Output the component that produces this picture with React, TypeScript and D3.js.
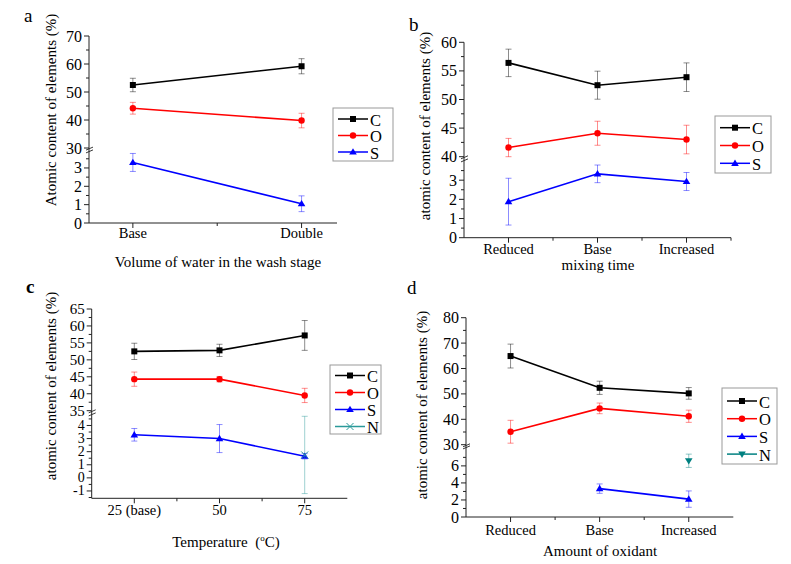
import React from "react";
import * as d3 from "d3";

type Val = number | null;

// ---- panel a: volume of wash water ----
const aCategories = ["Base", "Double"];
const aC: Val[] = [52.5, 59.2];
const aCErr = [2.4, 2.7];
const aO: Val[] = [44.2, 39.8];
const aOErr = [2.1, 2.6];
const aS: Val[] = [3.3, 1.05];
const aSErr = [0.49, 0.43];
const aUpperTicks = [30, 40, 50, 60, 70];
const aLowerTicks = [0, 1, 2, 3];

// ---- panel b: mixing time ----
const bCategories = ["Reduced", "Base", "Increased"];
const bC: Val[] = [56.4, 52.5, 53.9];
const bCErr = [2.4, 2.45, 2.5];
const bO: Val[] = [41.6, 44.1, 43.0];
const bOErr = [1.6, 2.1, 2.5];
const bS: Val[] = [1.88, 3.33, 2.93];
const bSErr = [1.22, 0.46, 0.47];
const bUpperTicks = [40, 45, 50, 55, 60];
const bLowerTicks = [0, 1, 2, 3];

// ---- panel c: temperature ----
const cCategories = ["25 (base)", "50", "75"];
const cC: Val[] = [52.5, 52.8, 57.2];
const cCErr = [2.4, 1.8, 4.4];
const cO: Val[] = [44.3, 44.3, 39.5];
const cOErr = [2.1, 0.8, 2.1];
const cS: Val[] = [3.29, 3.0, 1.65];
const cSErr = [0.48, 1.07, 0.2];
const cN: Val[] = [null, null, 1.75];
const cNErr = [0, 0, 2.95];
const cUpperTicks = [35, 40, 45, 50, 55, 60, 65];
const cLowerTicks = [-1, 0, 1, 2, 3, 4];

// ---- panel d: amount of oxidant ----
const dCategories = ["Reduced", "Base", "Increased"];
const dC: Val[] = [64.9, 52.4, 50.2];
const dCErr = [4.7, 2.6, 2.3];
const dO: Val[] = [35.1, 44.3, 41.2];
const dOErr = [4.5, 2.1, 2.4];
const dS: Val[] = [null, 3.33, 2.1];
const dSErr = [0, 0.55, 0.96];
const dN: Val[] = [null, null, 6.6];
const dNErr = [0, 0, 0.78];
const dUpperTicks = [30, 40, 50, 60, 70, 80];
const dLowerTicks = [0, 2, 4, 6];

type Marker = "square" | "circle" | "triangle" | "triangleDown" | "cross";

interface Series {
  name: string;
  values: Val[];
  errors: number[];
  seg: "upper" | "lower";
  color: string;
  marker: Marker;
}

interface Segment {
  domain: [number, number];
  range: [number, number];
  ticks: number[];
  fontSize?: number;
}

interface PanelCfg {
  letter: string;
  letterX: number;
  letterY: number;
  letterBold?: boolean;
  axisX: number;
  xRight: number;
  xDomain: [number, number];
  xMinor: number[];
  catY: number;
  categories: string[];
  upper: Segment;
  lower: Segment;
  yTitle: string;
  yTitleX: number;
  yTitleY: number;
  xTitle: React.ReactNode;
  xTitleX: number;
  xTitleY: number;
  legend: { x: number; y: number; w: number; h: number; first: number; step: number };
  series: Series[];
}

const FONT = "'Liberation Serif', 'Times New Roman', serif";
const BLACK = "#000000";
const RED = "#ff0000";
const BLUE = "#0000ff";
const TEAL = "#008080";

const minorTicks = (ticks: number[], domain: [number, number]) => {
  const step = ticks[1] - ticks[0];
  return d3
    .range(ticks[0] - step / 2, domain[1] + 1e-9, step)
    .filter((v) => v >= domain[0] - 1e-9 && v <= domain[1] + 1e-9);
};

const MarkerShape: React.FC<{ type: Marker; x: number; y: number; color: string }> = ({ type, x, y, color }) => {
  if (type === "square") return <rect x={x - 3} y={y - 3} width={6} height={6} fill={color} />;
  if (type === "circle") return <circle cx={x} cy={y} r={3.2} fill={color} />;
  if (type === "triangle")
    return <path d={`M${x},${y - 3.8}L${x + 3.8},${y + 2.6}L${x - 3.8},${y + 2.6}Z`} fill={color} />;
  if (type === "triangleDown")
    return <path d={`M${x},${y + 3.8}L${x + 3.8},${y - 2.6}L${x - 3.8},${y - 2.6}Z`} fill={color} />;
  return (
    <path
      d={`M${x - 3.5},${y - 3.5}L${x + 3.5},${y + 3.5}M${x - 3.5},${y + 3.5}L${x + 3.5},${y - 3.5}`}
      stroke={color}
      strokeWidth={1}
      fill="none"
    />
  );
};

const Panel: React.FC<{ cfg: PanelCfg }> = ({ cfg }) => {
  const x = d3.scaleLinear().domain(cfg.xDomain).range([cfg.axisX, cfg.xRight]);
  const yU = d3.scaleLinear().domain(cfg.upper.domain).range(cfg.upper.range);
  const yL = d3.scaleLinear().domain(cfg.lower.domain).range(cfg.lower.range);
  const bottom = cfg.lower.range[0];
  const breakTop = cfg.upper.range[0];
  const breakBottom = cfg.lower.range[1];

  const segs: [Segment, d3.ScaleLinear<number, number>][] = [
    [cfg.upper, yU],
    [cfg.lower, yL],
  ];

  return (
    <g fontFamily={FONT}>
      <text
        x={cfg.letterX}
        y={cfg.letterY}
        fontSize={19}
        fontWeight={cfg.letterBold ? "bold" : "normal"}
      >
        {cfg.letter}
      </text>

      {/* Y axis, two segments with a break */}
      {segs.map(([seg, y], si) => (
        <g key={si}>
          <line x1={cfg.axisX} x2={cfg.axisX} y1={seg.range[0]} y2={seg.range[1]} stroke="#222" />
          {seg.ticks.map((t) => (
            <g key={t}>
              <line x1={cfg.axisX - 5} x2={cfg.axisX} y1={y(t)} y2={y(t)} stroke="#222" />
              <text
                x={cfg.axisX - 7}
                y={y(t)}
                textAnchor="end"
                dominantBaseline="central"
                fontSize={seg.fontSize ?? 16}
              >
                {t}
              </text>
            </g>
          ))}
          {minorTicks(seg.ticks, seg.domain).map((t) => (
            <line key={t} x1={cfg.axisX - 3} x2={cfg.axisX} y1={y(t)} y2={y(t)} stroke="#222" />
          ))}
        </g>
      ))}
      <line x1={cfg.axisX} x2={cfg.axisX} y1={breakTop} y2={breakBottom} stroke="#222" />
      {[breakTop + 0.6, breakBottom - 0.6].map((by, i) => (
        <line
          key={i}
          x1={cfg.axisX - 3}
          x2={cfg.axisX + 4}
          y1={by + 1.5}
          y2={by - 1.5}
          stroke="#222"
          strokeWidth={0.9}
        />
      ))}

      {/* X axis */}
      <line x1={cfg.axisX} x2={cfg.xRight} y1={bottom} y2={bottom} stroke="#222" />
      {cfg.categories.map((c, i) => (
        <g key={c}>
          <line x1={x(i + 1)} x2={x(i + 1)} y1={bottom} y2={bottom + 5} stroke="#222" />
          <text x={x(i + 1)} y={cfg.catY} textAnchor="middle" fontSize={14.5}>
            {c}
          </text>
        </g>
      ))}
      {cfg.xMinor.map((t) => (
        <line key={t} x1={x(t)} x2={x(t)} y1={bottom} y2={bottom + 3} stroke="#222" />
      ))}

      <text
        transform={`translate(${cfg.yTitleX},${cfg.yTitleY}) rotate(-90)`}
        textAnchor="middle"
        fontSize={15}
      >
        {cfg.yTitle}
      </text>
      <text x={cfg.xTitleX} y={cfg.xTitleY} textAnchor="middle" fontSize={15}>
        {cfg.xTitle}
      </text>

      {/* Series */}
      {cfg.series.map((s) => {
        const y = s.seg === "upper" ? yU : yL;
        const line = d3
          .line<Val>()
          .defined((v) => v !== null)
          .x((_, i) => x(i + 1))
          .y((v) => y(v as number));
        return (
          <g key={s.name}>
            {s.values.map((v, i) =>
              v === null || !s.errors[i] ? null : (
                <g key={i} stroke={s.color} strokeOpacity={0.45} strokeWidth={1}>
                  <line x1={x(i + 1)} x2={x(i + 1)} y1={y(v - s.errors[i])} y2={y(v + s.errors[i])} />
                  <line x1={x(i + 1) - 3} x2={x(i + 1) + 3} y1={y(v - s.errors[i])} y2={y(v - s.errors[i])} />
                  <line x1={x(i + 1) - 3} x2={x(i + 1) + 3} y1={y(v + s.errors[i])} y2={y(v + s.errors[i])} />
                </g>
              )
            )}
            <path d={line(s.values) ?? ""} fill="none" stroke={s.color} strokeWidth={1.6} />
            {s.values.map((v, i) =>
              v === null ? null : <MarkerShape key={i} type={s.marker} x={x(i + 1)} y={y(v)} color={s.color} />
            )}
          </g>
        );
      })}

      {/* Legend */}
      <rect
        x={cfg.legend.x}
        y={cfg.legend.y}
        width={cfg.legend.w}
        height={cfg.legend.h}
        fill="white"
        stroke="#999"
      />
      {cfg.series.map((s, i) => {
        const ly = cfg.legend.y + cfg.legend.first + i * cfg.legend.step;
        const lx1 = cfg.legend.x + 5;
        const lx2 = cfg.legend.x + 35;
        return (
          <g key={s.name}>
            <line x1={lx1} x2={lx2} y1={ly} y2={ly} stroke={s.color} strokeWidth={1.5} />
            <MarkerShape type={s.marker} x={(lx1 + lx2) / 2} y={ly} color={s.color} />
            <text x={lx2 + 2} y={ly + 1} dominantBaseline="central" fontSize={16.5}>
              {s.name}
            </text>
          </g>
        );
      })}
    </g>
  );
};

const panelA: PanelCfg = {
  letter: "a",
  letterX: 24,
  letterY: 22,
  axisX: 89,
  xRight: 337,
  xDomain: [0.74, 2.21],
  xMinor: [1.5],
  catY: 238,
  categories: aCategories,
  upper: { domain: [30, 70], range: [148, 36], ticks: aUpperTicks },
  lower: { domain: [0, 3.87], range: [223, 152], ticks: aLowerTicks },
  yTitle: "Atomic content of elements (%)",
  yTitleX: 56,
  yTitleY: 110,
  xTitle: "Volume of water in the wash stage",
  xTitleX: 218,
  xTitleY: 267,
  legend: { x: 333, y: 108, w: 60, h: 53, first: 11, step: 16.5 },
  series: [
    { name: "C", values: aC, errors: aCErr, seg: "upper", color: BLACK, marker: "square" },
    { name: "O", values: aO, errors: aOErr, seg: "upper", color: RED, marker: "circle" },
    { name: "S", values: aS, errors: aSErr, seg: "lower", color: BLUE, marker: "triangle" },
  ],
};

const panelB: PanelCfg = {
  letter: "b",
  letterX: 409,
  letterY: 31,
  axisX: 464,
  xRight: 731,
  xDomain: [0.5, 3.5],
  xMinor: [1.5, 2.5, 3.5],
  catY: 254,
  categories: bCategories,
  upper: { domain: [40, 60], range: [156.7, 42.3], ticks: bUpperTicks },
  lower: { domain: [0, 4.0], range: [237.7, 161], ticks: bLowerTicks },
  yTitle: "atomic content of elements (%)",
  yTitleX: 430,
  yTitleY: 126,
  xTitle: "mixing time",
  xTitleX: 598,
  xTitleY: 270,
  legend: { x: 715, y: 116, w: 56, h: 57, first: 11.7, step: 17.8 },
  series: [
    { name: "C", values: bC, errors: bCErr, seg: "upper", color: BLACK, marker: "square" },
    { name: "O", values: bO, errors: bOErr, seg: "upper", color: RED, marker: "circle" },
    { name: "S", values: bS, errors: bSErr, seg: "lower", color: BLUE, marker: "triangle" },
  ],
};

const panelC: PanelCfg = {
  letter: "c",
  letterX: 26,
  letterY: 293,
  letterBold: true,
  axisX: 91.7,
  xRight: 347.3,
  xDomain: [0.5, 3.5],
  xMinor: [1.5, 2.5],
  catY: 515,
  categories: cCategories,
  upper: { domain: [35, 65], range: [410.7, 309], ticks: cUpperTicks, fontSize: 15 },
  lower: { domain: [-1.56, 4.8], range: [498.3, 415], ticks: cLowerTicks, fontSize: 14 },
  yTitle: "atomic content of elements (%)",
  yTitleX: 56,
  yTitleY: 386,
  xTitle: (
    <>
      Temperature{"\u2002"}(
      <tspan fontSize={9} dy={-6}>
        o
      </tspan>
      <tspan dy={6}>C)</tspan>
    </>
  ),
  xTitleX: 226,
  xTitleY: 547,
  legend: { x: 330, y: 365, w: 51, h: 69, first: 10.5, step: 17 },
  series: [
    { name: "C", values: cC, errors: cCErr, seg: "upper", color: BLACK, marker: "square" },
    { name: "O", values: cO, errors: cOErr, seg: "upper", color: RED, marker: "circle" },
    { name: "S", values: cS, errors: cSErr, seg: "lower", color: BLUE, marker: "triangle" },
    { name: "N", values: cN, errors: cNErr, seg: "lower", color: "#2a9a9a", marker: "cross" },
  ],
};

const panelD: PanelCfg = {
  letter: "d",
  letterX: 407,
  letterY: 294,
  axisX: 466,
  xRight: 733.3,
  xDomain: [0.5, 3.5],
  xMinor: [1.5, 2.5],
  catY: 535,
  categories: dCategories,
  upper: { domain: [30, 80], range: [444.7, 317.7], ticks: dUpperTicks },
  lower: { domain: [0, 8.1], range: [517, 448], ticks: dLowerTicks },
  yTitle: "atomic content of elements  (%)",
  yTitleX: 427,
  yTitleY: 405,
  xTitle: "Amount of oxidant",
  xTitleX: 600,
  xTitleY: 556,
  legend: { x: 722, y: 388, w: 55, h: 76, first: 13, step: 17.7 },
  series: [
    { name: "C", values: dC, errors: dCErr, seg: "upper", color: BLACK, marker: "square" },
    { name: "O", values: dO, errors: dOErr, seg: "upper", color: RED, marker: "circle" },
    { name: "S", values: dS, errors: dSErr, seg: "lower", color: BLUE, marker: "triangle" },
    { name: "N", values: dN, errors: dNErr, seg: "lower", color: TEAL, marker: "triangleDown" },
  ],
};

export default function App() {
  return (
    <svg
      width={791}
      height={564}
      style={{ position: "absolute", left: 0, top: 0, background: "white" }}
    >
      <Panel cfg={panelA} />
      <Panel cfg={panelB} />
      <Panel cfg={panelC} />
      <Panel cfg={panelD} />
    </svg>
  );
}
